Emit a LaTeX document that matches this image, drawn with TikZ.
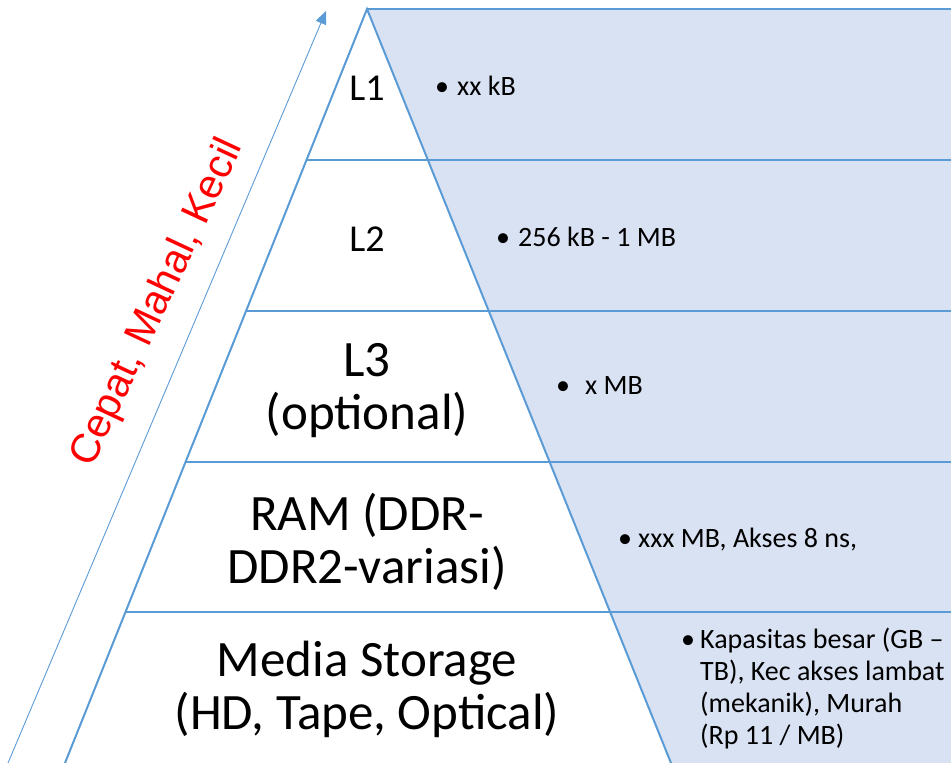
\documentclass[tikz,border=0pt]{standalone}
\usepackage{fontspec}
\setmainfont{Carlito}
\newfontfamily\arialfont{Liberation Sans}
\usetikzlibrary{arrows.meta,calc}
\definecolor{pyrline}{HTML}{5B9BD5}
\definecolor{pyrfill}{HTML}{D9E2F3}
\tikzset{
  pyredge/.style={draw=pyrline, line width=2pt},
  biglabel/.style={inner sep=0pt, anchor=base, font=\fontsize{51}{53}\selectfont},
  smalllabel/.style={inner sep=0pt, anchor=base, font=\fontsize{38}{44}\selectfont},
  bullettext/.style={inner sep=0pt, anchor=base west, font=\fontsize{28}{32}\selectfont},
}
\newcommand{\bulletbox}[1]{\makebox[#1pt][l]{\textbullet}}
\begin{document}
\begin{tikzpicture}[x=1pt,y=-1pt]
\useasboundingbox (0,0) rectangle (951,763);
\coordinate (apex) at (367,9);
\coordinate (bl) at (65,763);
\coordinate (br) at (671,763);
\coordinate (tr) at (951,9);
\coordinate (brr) at (951,763);
% shaded right part
\fill[pyrfill] (apex) -- (tr) -- (brr) -- (br) -- cycle;
% level separators
\coordinate (s1) at ($(apex)!0.2003!(bl)$);
\coordinate (s2) at ($(apex)!0.4005!(bl)$);
\coordinate (s3) at ($(apex)!0.6008!(bl)$);
\coordinate (s4) at ($(apex)!0.7997!(bl)$);
\draw[pyredge] (s1) -- (s1 -| tr);
\draw[pyredge] (s2) -- (s2 -| tr);
\draw[pyredge] (s3) -- (s3 -| tr);
\draw[pyredge] (s4) -- (s4 -| tr);
\draw[pyredge] (bl) -- (apex) -- (br);
\draw[pyredge] (apex) -- (tr);
% arrow
\coordinate (a0) at (8,763);
\coordinate (a1) at (326,11);
\draw[pyrline, line width=0.9pt, -{Triangle[length=13pt,width=11pt]}] (a0) -- (a1);
\node[text=red, inner sep=0pt, font=\arialfont\fontsize{41}{48}\selectfont, rotate=65] (lbl) at (158,303) {Cepat, Mahal, Kecil};
% pyramid labels
\node[smalllabel] (t1) at (367,100) {L1};
\node[smalllabel] (t2) at (367,251) {L2};
\node[biglabel] (t3) at (367,376) {\begin{tabular}[t]{@{}c@{}}L3\\(optional)\end{tabular}};
\node[biglabel] (t4) at (367,530) {\begin{tabular}[t]{@{}c@{}}RAM (DDR-\\DDR2-variasi)\end{tabular}};
\node[biglabel] (t5) at (367,676) {\begin{tabular}[t]{@{}c@{}}Media Storage\\(HD, Tape, Optical)\end{tabular}};
% descriptions
\node[bullettext] (d1) at (435,95) {\bulletbox{22}xx kB};
\node[bullettext] (d2) at (496,246) {\bulletbox{22}256 kB - 1 MB};
\node[bullettext] (d3) at (556,394) {\bulletbox{29}x MB};
\node[bullettext] (d4) at (618,547) {\bulletbox{20}xxx MB, Akses 8 ns,};
\node[bullettext] (d5) at (681,648) {\bulletbox{19}\begin{tabular}[t]{@{}l@{}}Kapasitas besar (GB –\\TB), Kec akses lambat\\(mekanik), Murah\\(Rp 11 / MB)\end{tabular}};
\end{tikzpicture}
\end{document}
